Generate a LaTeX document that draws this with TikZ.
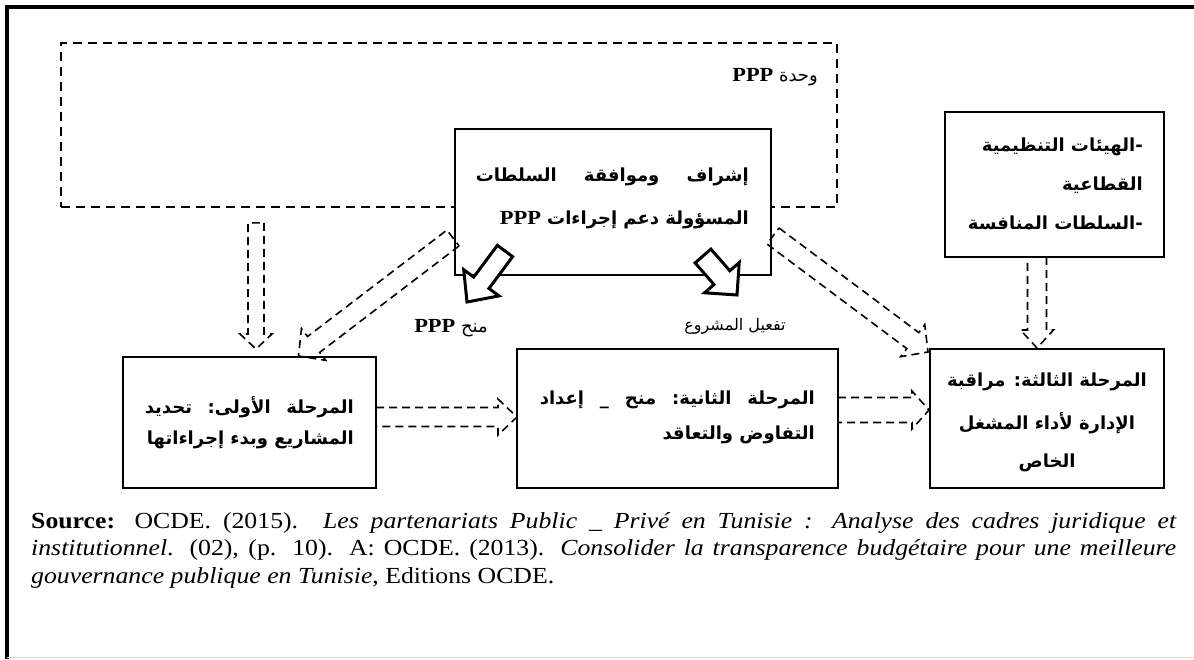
\documentclass[tikz,border=0pt]{standalone}
\usepackage{fontspec}
\setmainfont[FakeStretch=1.12]{Liberation Serif}
\newfontfamily\arabicfont[Script=Arabic]{DejaVu Sans}
\TeXXeTstate=1
\usetikzlibrary{calc}

% Arabic text helpers: a right-to-left run (bold or regular), and a bold run
% stretched to a given width
\newcommand{\artxt}[1]{{\arabicfont\bfseries\beginR #1\endR}}
\newcommand{\artxtr}[1]{{\arabicfont\beginR #1\endR}}
\newcommand{\arfill}[2]{\hbox to #1{\arabicfont\bfseries\beginR #2\endR}}
\newcommand{\pppword}{\beginL{\rmfamily\bfseries\fontsize{20}{20}\selectfont PPP}\endL}

% Hollow block arrow: #1 style, #2 tail, #3 tip, #4 half shaft width,
% #5 half head width, #6 head length
\newcommand{\blockarr}[6]{%
  \coordinate (ba-h) at ($(#3)!#6!(#2)$);
  \draw[#1] ($(#2)!#4!90:(#3)$) -- ($(ba-h)!#4!-90:(#2)$) -- ($(ba-h)!#5!-90:(#2)$)
    -- (#3) -- ($(ba-h)!#5!90:(#2)$) -- ($(ba-h)!#4!90:(#2)$)
    -- ($(#2)!#4!-90:(#3)$) -- cycle;
}

\tikzset{
  box/.style={draw, line width=1.7pt, fill=white, inner sep=0pt, outer sep=0pt},
  dashbox/.style={draw, line width=1.7pt, dash pattern=on 9pt off 6pt, inner sep=0pt},
  dasharr/.style={line width=1.6pt, dash pattern=on 8pt off 5pt, line join=miter},
  solidarr/.style={line width=3pt, fill=white, line join=miter},
  artext/.style={font=\fontsize{18}{20}\selectfont, inner sep=0pt},
  srctext/.style={font=\fontsize{23}{27.6}\selectfont,
    inner sep=0pt, text width=1145pt, align=justify, anchor=north west}
}

\begin{document}
\begin{tikzpicture}[x=1pt, y=-1pt]
\useasboundingbox (0,0) rectangle (1194,659);

% page frame
\draw[line width=4pt] (1194,7) -- (7,7) -- (7,659);
\draw[black!15, line width=1pt] (7,657.5) -- (1194,657.5);

% PPP unit (dashed)
\node[dashbox, minimum width=776pt, minimum height=164pt] (unit) at (449,125) {};
\node[artext, anchor=east] (unitlbl) at (818,77) {\artxtr{وحدة \pppword}};

% supervising authority
\node[box, minimum width=316pt, minimum height=146pt] (sup) at (613,202) {};
\node[artext, anchor=east] (sup1) at (749,177) {\arfill{273pt}{إشراف\hfill وموافقة\hfill السلطات}};
\node[artext, anchor=east] (sup2) at (749,220) {\artxt{المسؤولة دعم إجراءات \pppword}};

% regulators
\node[box, minimum width=219pt, minimum height=145pt] (reg) at (1054.5,184.5) {};
\node[artext, anchor=east] (reg1) at (1143,147) {\artxt{-الهيئات التنظيمية}};
\node[artext, anchor=east] (reg2) at (1143,185) {\artxt{القطاعية}};
\node[artext, anchor=east] (reg3) at (1143,223) {\artxt{-السلطات المنافسة}};

% phase 1
\node[box, minimum width=253pt, minimum height=131pt] (ph1) at (249.5,422.5) {};
\node[artext, anchor=east] (ph1a) at (354,407) {\arfill{209pt}{المرحلة\hfill الأولى:\hfill تحديد}};
\node[artext, anchor=east] (ph1b) at (354,440) {\artxt{المشاريع وبدء إجراءاتها}};

% phase 2
\node[box, minimum width=321pt, minimum height=139pt] (ph2) at (677.5,418.5) {};
\node[artext, anchor=east] (ph2a) at (815,400) {\arfill{275pt}{المرحلة\hfill الثانية:\hfill منح\hfill \_\hfill إعداد}};
\node[artext, anchor=east] (ph2b) at (815,435) {\artxt{التفاوض والتعاقد}};

% phase 3
\node[box, minimum width=234pt, minimum height=139pt] (ph3) at (1047,418.5) {};
\node[artext] (ph3a) at (1047,382) {\artxt{المرحلة الثالثة: مراقبة}};
\node[artext] (ph3b) at (1047,423) {\artxt{الإدارة لأداء المشغل}};
\node[artext] (ph3c) at (1047,463) {\artxt{الخاص}};

% labels under the supervising box
\node[artext] (lblaward) at (451,328) {\artxtr{منح \pppword}};
\node[artext, font=\fontsize{16}{18}\selectfont] (lblrun) at (735,326) {\artxtr{تفعيل المشروع}};

% connector end points
\coordinate (u-s) at ($(unit.south)+(-193,15)$);
\coordinate (p1-n) at ($(ph1.north)+(6.5,-8)$);
\coordinate (sup-w) at ($(sup.west)+(-2,36)$);
\coordinate (p1-nr) at ($(ph1.north)+(49,-1)$);
\coordinate (sup-e) at ($(sup.east)+(2,34)$);
\coordinate (p3-nw) at ($(ph3.north west)+(-2,3)$);
\coordinate (p1-e) at ($(ph1.east)+(0,-5.5)$);
\coordinate (p2-w) at ($(ph2.west)+(0,-1.5)$);
\coordinate (p2-e) at ($(ph2.east)+(0,-8.5)$);
\coordinate (p3-w) at ($(ph3.west)+(-1,-8.5)$);
\coordinate (reg-s) at ($(reg.south)+(-17.5,0)$);
\coordinate (p3-n) at ($(ph3.north)+(-10,-1)$);
\coordinate (sup-bl) at ($(sup.south west)+(50,-24)$);
\coordinate (aw-tip) at ($(sup.south west)+(12,27)$);
\coordinate (sup-br) at ($(sup.south east)+(-68,-19)$);
\coordinate (run-tip) at ($(sup.south east)+(-34,20)$);

% dashed connectors
\blockarr{dasharr}{u-s}{p1-n}{8pt}{16pt}{15pt}
\blockarr{dasharr}{sup-w}{p1-nr}{10pt}{20pt}{19pt}
\blockarr{dasharr}{sup-e}{p3-nw}{10pt}{20pt}{19pt}
\blockarr{dasharr}{p1-e}{p2-w}{9.5pt}{18pt}{19pt}
\blockarr{dasharr}{p2-e}{p3-w}{12.5pt}{19pt}{17pt}
\blockarr{dasharr}{reg-s}{p3-n}{9.5pt}{16.5pt}{18pt}

% solid outlined arrows leaving the supervising box
\blockarr{solidarr}{sup-bl}{aw-tip}{9.5pt}{22pt}{24pt}
\blockarr{solidarr}{sup-br}{run-tip}{10.5pt}{23pt}{23pt}

% source note (long words kept whole)
\node[srctext] (src) at (31,512) {\textbf{Source:} OCDE. (2015). \textit{Les partenariats Public \_ Privé en Tunisie~: Analyse des cadres juridique et \mbox{institutionnel}}. (02), (p. 10). A: OCDE. (2013). \textit{Consolider la transparence budgétaire pour une meilleure \mbox{gouvernance} publique en Tunisie}, Editions OCDE.};
\end{tikzpicture}
\end{document}
